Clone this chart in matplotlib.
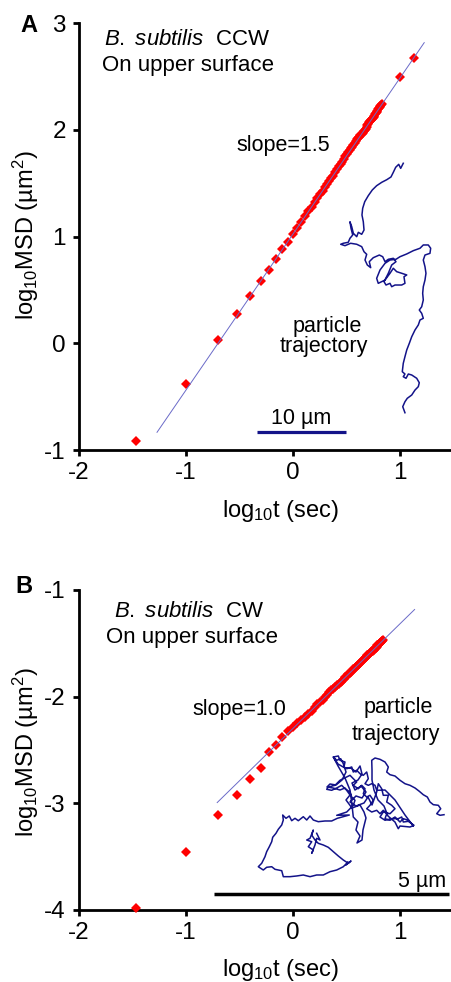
import matplotlib
matplotlib.use("Agg")
import matplotlib.pyplot as plt
import numpy as np

plt.rcParams['font.family'] = ['Liberation Sans', 'DejaVu Sans']
plt.rcParams['mathtext.fontset'] = 'custom'
plt.rcParams['mathtext.rm'] = 'Liberation Sans'
plt.rcParams['mathtext.it'] = 'Liberation Sans:italic'
plt.rcParams['mathtext.default'] = 'regular'
plt.rcParams['axes.unicode_minus'] = False

# lag times (s) and log10 MSD (um^2)
lag_a = [0.0345, 0.1, 0.2, 0.3, 0.4, 0.5, 0.6, 0.7, 0.8, 0.9,
         1.0, 1.1, 1.2, 1.3, 1.4, 1.5, 1.6, 1.7, 1.8, 1.9,
         2.0, 2.1, 2.2, 2.3, 2.4, 2.5, 2.6, 2.7, 2.8, 2.9,
         3.0, 3.1, 3.2, 3.3, 3.4, 3.5, 3.6, 3.7, 3.8, 3.9,
         4.0, 4.1, 4.2, 4.3, 4.4, 4.5, 4.6, 4.7, 4.8, 4.9,
         5.0, 5.1, 5.2, 5.3, 5.4, 5.5, 5.6, 5.7, 5.8, 5.9,
         6.0, 6.1, 6.2, 6.3, 6.4, 6.5, 6.6, 6.7, 6.8, 10.1, 13.5]
msd_a = [-0.92, -0.38, 0.03, 0.27, 0.44, 0.58, 0.69, 0.79, 0.88, 0.95,
         1.02, 1.08, 1.14, 1.19, 1.24, 1.28, 1.32, 1.36, 1.40, 1.43,
         1.46, 1.49, 1.52, 1.55, 1.57, 1.60, 1.63, 1.66, 1.68, 1.70,
         1.73, 1.75, 1.77, 1.79, 1.81, 1.83, 1.84, 1.86, 1.88, 1.89,
         1.91, 1.92, 1.93, 1.95, 1.96, 1.97, 1.99, 2.00, 2.01, 2.03,
         2.04, 2.05, 2.07, 2.08, 2.09, 2.10, 2.11, 2.12, 2.13, 2.15,
         2.16, 2.17, 2.18, 2.19, 2.20, 2.21, 2.22, 2.23, 2.24, 2.49, 2.67]

lag_b = [0.0345, 0.1, 0.2, 0.3, 0.4, 0.5, 0.6, 0.7, 0.8, 0.9,
         1.0, 1.1, 1.2, 1.3, 1.4, 1.5, 1.6, 1.7, 1.8, 1.9,
         2.0, 2.1, 2.2, 2.3, 2.4, 2.5, 2.6, 2.7, 2.8, 2.9,
         3.0, 3.1, 3.2, 3.3, 3.4, 3.5, 3.6, 3.7, 3.8, 3.9,
         4.0, 4.1, 4.2, 4.3, 4.4, 4.5, 4.6, 4.7, 4.8, 4.9,
         5.0, 5.1, 5.2, 5.3, 5.4, 5.5, 5.6, 5.7, 5.8, 5.9,
         6.0, 6.1, 6.2, 6.3, 6.4, 6.5, 6.6, 6.7, 6.8, 6.9, 7.0]
msd_b = [-3.98, -3.455, -3.11, -2.92, -2.77, -2.67, -2.52, -2.455, -2.38, -2.32,
         -2.28, -2.25, -2.22, -2.19, -2.16, -2.13, -2.10, -2.07, -2.05, -2.03,
         -2.00, -1.98, -1.96, -1.94, -1.93, -1.91, -1.89, -1.88, -1.86, -1.85,
         -1.83, -1.82, -1.81, -1.79, -1.78, -1.77, -1.76, -1.74, -1.73, -1.72,
         -1.71, -1.70, -1.69, -1.68, -1.67, -1.66, -1.65, -1.64, -1.63, -1.62,
         -1.61, -1.61, -1.60, -1.59, -1.58, -1.57, -1.57, -1.56, -1.55, -1.54,
         -1.54, -1.53, -1.52, -1.52, -1.51, -1.50, -1.50, -1.49, -1.48, -1.48, -1.47]

# fitted lines: slope, intercept, x range (log10 t)
fit_a = (1.46, 1.02, [-1.27, 1.23])
fit_b = (0.98, -2.30, [-0.707, 1.14])

# particle trajectories (um)
traj_a_x = [0.03, -0.26, -0.48, -0.82, -1.09, -1.35, -1.83, -2.39, -2.96, -3.45,
            -3.90, -4.30, -4.53, -4.61, -4.46, -4.38, -4.64, -5.02, -5.20, -5.58,
            -5.76, -5.96, -5.84, -5.65, -5.96, -6.15, -6.71, -7.00, -6.52, -5.88,
            -5.20, -4.64, -4.38, -4.08, -4.27, -4.01, -3.63, -3.79, -3.34, -2.66,
            -2.28, -2.02, -1.65, -1.09, -0.79, -1.27, -1.65, -2.13, -1.91, -1.46,
            -1.27, -0.90, -0.15, 0.22, 0.11, 0.42, -0.15, -0.71, -1.09, -1.46,
            -2.02, -2.78, -2.96, -2.58, -2.02, -1.46, -0.79, -0.34, 0.42, 1.16,
            1.91, 2.28, 2.84, 3.11, 3.03, 2.47, 2.28, 2.47, 2.58, 2.47,
            2.28, 2.21, 2.28, 2.10, 1.83, 2.10, 2.28, 1.91, 1.72, 1.35,
            0.98, 0.71, 0.42, 0.22, 0.03, -0.08, 0.22, 0.03, 0.34, 0.60,
            0.98, 1.54, 1.83, 1.72, 1.35, 0.98, 0.48, 0.22, -0.03, 0.22]
traj_a_y = [-0.03, -0.60, -0.15, -0.48, -1.05, -1.57, -1.88, -2.17, -2.55, -3.03,
            -3.67, -4.35, -5.09, -5.84, -6.60, -7.53, -8.01, -7.79, -8.28, -7.90,
            -7.16, -6.60, -7.34, -8.09, -8.46, -8.91, -9.02, -9.13, -9.29, -9.02,
            -9.13, -9.40, -9.97, -10.26, -10.90, -11.46, -11.76, -11.09, -10.64, -10.34,
            -10.53, -11.09, -10.82, -10.71, -11.09, -11.46, -12.39, -13.34, -13.71, -13.52,
            -13.90, -13.71, -13.71, -13.52, -12.78, -12.58, -12.39, -12.21, -11.83, -12.39,
            -13.15, -13.52, -12.96, -12.02, -11.27, -10.90, -10.82, -10.53, -10.22, -9.85,
            -9.58, -9.21, -9.21, -9.58, -10.15, -10.34, -10.90, -11.65, -12.39, -13.15,
            -13.90, -14.64, -15.39, -16.15, -16.52, -16.89, -17.45, -17.64, -18.20, -18.76,
            -19.52, -20.26, -21.01, -21.76, -22.51, -23.45, -23.71, -24.01, -24.19, -23.71,
            -23.82, -24.19, -24.69, -25.13, -25.51, -26.07, -26.44, -26.82, -27.38, -28.06]

traj_b_x = [0.355, 0.426, 0.355, 0.319, 0.249, 0.283, 0.177, 0.249, 0.143, 0.213,
            0.283, 0.249, 0.319, 0.389, 0.496, 0.602, 0.709, 0.815, 0.921, 1.028,
            1.085, 0.979, 1.021, 0.921, 0.781, 0.638, 0.496, 0.355, 0.213, 0.070,
            -0.070, -0.213, -0.355, -0.389, -0.532, -0.602, -0.709, -0.781, -0.887, -0.815,
            -0.745, -0.709, -0.653, -0.602, -0.581, -0.511, -0.462, -0.389, -0.355, -0.368,
            -0.298, -0.228, -0.177, -0.106, -0.036, 0.070, 0.143, 0.213, 0.283, 0.389,
            0.532, 0.674, 0.794, 0.921, 1.049,
            0.781, 0.887, 0.994, 1.064, 1.134, 1.170, 1.100, 1.064, 0.957, 0.887,
            0.781, 0.674, 0.568, 0.602, 0.745, 0.851, 0.994,
            1.064, 1.134, 1.206, 1.134, 1.240, 1.313, 1.383, 1.347, 1.419, 1.489,
            1.560, 1.489, 1.419, 1.526, 1.632, 1.702, 1.772, 1.845, 1.809, 1.915,
            2.021, 2.128, 2.198, 2.304, 2.377, 2.411, 2.234, 2.021, 1.809,
            1.632, 1.596, 1.526, 1.453, 1.383, 1.453, 1.419, 1.347, 1.277, 1.206,
            1.134, 1.100, 0.994, 0.936, 0.957, 0.851, 0.815, 0.709,
            0.809, 0.957, 1.064, 1.106,
            1.134, 1.234, 1.191, 1.277, 1.213,
            1.319, 1.340, 1.404, 1.362, 1.277, 1.106, 0.979, 1.064, 0.957, 0.851,
            0.702, 0.574, 0.638, 0.766, 0.894, 0.979, 0.921, 0.866, 0.781, 0.709,
            0.809, 0.957, 1.085, 1.191, 1.277, 1.319, 1.234, 1.106, 1.170, 1.298,
            1.404, 1.319, 1.191, 1.064, 1.191, 1.362, 1.447, 1.532, 1.632, 1.666,
            1.738, 1.772, 1.879, 1.845, 1.951, 2.021, 1.915, 1.772, 1.702, 1.809,
            1.951, 2.091, 2.164, 2.198, 2.304, 2.426, 2.340, 2.128, 2.091, 2.021,
            1.872, 1.787, 1.660, 1.574, 1.532, 1.532, 1.526, 1.596, 1.702, 1.809,
            1.879, 1.845, 1.915, 2.021, 2.128, 2.234, 2.340, 2.447, 2.538, 2.623,
            2.709, 2.766, 2.836, 2.943, 2.994, 2.909, 2.979, 3.064]
traj_b_y = [-0.283, -0.426, -0.389, -0.532, -0.709, -0.638, -0.568, -0.462, -0.426, -0.389,
            -0.213, -0.319, -0.426, -0.496, -0.532, -0.581, -0.674, -0.766, -0.851, -0.921,
            -0.872, -0.957, -0.894, -0.994, -1.064, -1.100, -1.170, -1.170, -1.206, -1.170,
            -1.191, -1.206, -1.206, -1.079, -1.049, -0.994, -1.006, -1.064, -0.994, -0.921,
            -0.781, -0.674, -0.568, -0.462, -0.368, -0.283, -0.198, -0.106, 0.000, 0.106,
            0.036, 0.085, -0.015, 0.036, -0.015, 0.070, 0.000, 0.085, 0.000, -0.036,
            -0.021, -0.021, 0.036, 0.070, 0.106,
            0.100, 0.134, 0.170, 0.240, 0.313, 0.419, 0.489, 0.596, 0.666, 0.738,
            0.681, 0.632, 0.653, 0.702, 0.738, 0.845, 0.915,
            0.951, 0.879, 0.809, 0.738, 0.666, 0.738, 0.666, 0.560, 0.489, 0.526,
            0.419, 0.313, 0.240, 0.170, 0.206, 0.134, 0.206, 0.134, 0.028, -0.006,
            0.064, -0.043, 0.028, -0.006, -0.079, -0.128, 0.106, 0.426, 0.638,
            0.632, 0.738, 0.772, 0.738, 0.772, 0.879, 1.021, 0.951, 0.985, 1.057,
            1.021, 1.128, 1.091, 1.128, 1.234, 1.270, 1.362, 1.340,
            1.149, 0.894, 0.638, 0.319,
            0.064, -0.043, -0.213, -0.340, -0.489,
            -0.426, -0.213, 0.043, 0.170, 0.319, 0.255, 0.426, 0.532, 0.681, 0.638,
            0.681, 0.702, 0.766, 0.745, 0.851, 1.021, 1.198, 1.304, 1.270, 1.340,
            1.191, 1.106, 1.106, 1.021, 1.149, 0.979, 0.851, 0.787, 0.638, 0.723,
            0.596, 0.468, 0.511, 0.383, 0.298, 0.362, 0.489, 0.319, 0.596, 0.772,
            0.666, 0.526, 0.526, 0.383, 0.313, 0.240, 0.134, 0.170, 0.064, -0.006,
            0.028, 0.028, 0.064, -0.043, -0.028, -0.113, -0.149, -0.128, -0.185, -0.043,
            0.085, 0.298, 0.426, 0.638, 0.851, 1.064, 1.270, 1.319, 1.291, 1.234,
            1.128, 1.021, 0.964, 0.936, 0.845, 0.772, 0.738, 0.681, 0.611, 0.538,
            0.489, 0.383, 0.326, 0.313, 0.240, 0.134, 0.100, 0.113]

W, H = 452, 982
RED = '#ff0000'
NAVY = '#131389'
FIT = '#6a6ac8'

fig = plt.figure(figsize=(W / 100, H / 100), dpi=100)


def style(ax, ylim, yticks):
    ax.set_xlim(-2, 1.49)
    ax.set_ylim(*ylim)
    ax.set_xticks([-2, -1, 0, 1])
    ax.set_yticks(yticks)
    for s in ['top', 'right']:
        ax.spines[s].set_visible(False)
    for s in ['left', 'bottom']:
        ax.spines[s].set_linewidth(2.0)
    ax.tick_params(width=2.0, length=4.5, labelsize=17.5)
    ax.tick_params(axis='y', pad=5)
    ax.tick_params(axis='x', pad=4)
    ax.set_ylabel('log$_{10}$MSD (µm$^2$)', fontsize=17)
    ax.set_xlabel('log$_{10}$t (sec)', fontsize=17)


def traj_axes(ox, oy, scale, xlim, ylim):
    left = ox + xlim[0] * scale
    right = ox + xlim[1] * scale
    top = oy - ylim[1] * scale
    bottom = oy - ylim[0] * scale
    a = fig.add_axes([left / W, 1 - bottom / H, (right - left) / W, (bottom - top) / H])
    a.set_xlim(xlim)
    a.set_ylim(ylim)
    a.axis('off')
    return a


# ---- panel A
ax_a = fig.add_axes([79 / W, 1 - 450 / H, 373 / W, 427 / H])
ax_a.plot(np.log10(lag_a), msd_a, 'D', color=RED, ms=5, mew=0, clip_on=False, zorder=3)
xf = np.array(fit_a[2])
ax_a.plot(xf, fit_a[0] * xf + fit_a[1], color=FIT, lw=0.7, zorder=4)
style(ax_a, (-1, 3), [-1, 0, 1, 2, 3])
ax_a.yaxis.set_label_coords(-0.103, 0.503)
ax_a.xaxis.set_label_coords(0.54, -0.112)
ax_a.text(-0.99, 2.79, '$\\mathit{B.\\ subtilis}$  CCW', fontsize=16, ha='center', va='baseline')
ax_a.text(-0.98, 2.55, 'On upper surface', fontsize=16, ha='center', va='baseline')
ax_a.text(-0.09, 1.80, 'slope=1.5', fontsize=15.5, ha='center', va='baseline')
ax_a.text(0.32, 0.108, 'particle', fontsize=15.5, ha='center', va='baseline')
ax_a.text(0.29, -0.079, 'trajectory', fontsize=15.5, ha='center', va='baseline')

tr_a = traj_axes(403, 163, 8.9, (-19, 4.5), (-31, 0.5))
tr_a.plot(traj_a_x, traj_a_y, color=NAVY, lw=1.1, clip_on=False)
bar_a = 10
tr_a.plot([-16.4, -16.4 + bar_a], [-30.2, -30.2], color=NAVY, lw=2.3, solid_capstyle='butt')
tr_a.text(-16.4 + bar_a / 2, -29.33, '10 µm', fontsize=15.5, ha='center', va='baseline')

# ---- panel B
ax_b = fig.add_axes([79 / W, 1 - 910 / H, 373 / W, 320 / H])
ax_b.plot(np.log10(lag_b), msd_b, 'D', color=RED, ms=5, mew=0, clip_on=False, zorder=3)
xf = np.array(fit_b[2])
ax_b.plot(xf, fit_b[0] * xf + fit_b[1], color=FIT, lw=0.7, zorder=4)
style(ax_b, (-4, -1), [-4, -3, -2, -1])
ax_b.yaxis.set_label_coords(-0.103, 0.494)
ax_b.xaxis.set_label_coords(0.54, -0.147)
ax_b.text(-0.97, -1.25, '$\\mathit{B.\\ subtilis}$  CW', fontsize=16, ha='center', va='baseline')
ax_b.text(-0.94, -1.50, 'On upper surface', fontsize=16, ha='center', va='baseline')
ax_b.text(-0.50, -2.172, 'slope=1.0', fontsize=15.5, ha='center', va='baseline')
ax_b.text(0.984, -2.156, 'particle', fontsize=15.5, ha='center', va='baseline')
ax_b.text(0.965, -2.406, 'trajectory', fontsize=15.5, ha='center', va='baseline')

tr_b = traj_axes(300, 820, 47, (-2.0, 3.3), (-1.7, 1.5))
tr_b.plot(traj_b_x, traj_b_y, color=NAVY, lw=1.1, clip_on=False)
bar_b = 5
tr_b.plot([-1.83, -1.83 + bar_b], [-1.574, -1.574], color='black', lw=2.5, solid_capstyle='butt')
tr_b.text(2.596, -1.419, '5 µm', fontsize=15.5, ha='center', va='baseline')

fig.text(29 / W, 1 - 31.7 / H, 'A', fontsize=17, weight='bold', ha='center', va='baseline')
fig.text(24 / W, 1 - 593 / H, 'B', fontsize=17, weight='bold', ha='center', va='baseline')

fig.savefig('out.png', dpi=100)
